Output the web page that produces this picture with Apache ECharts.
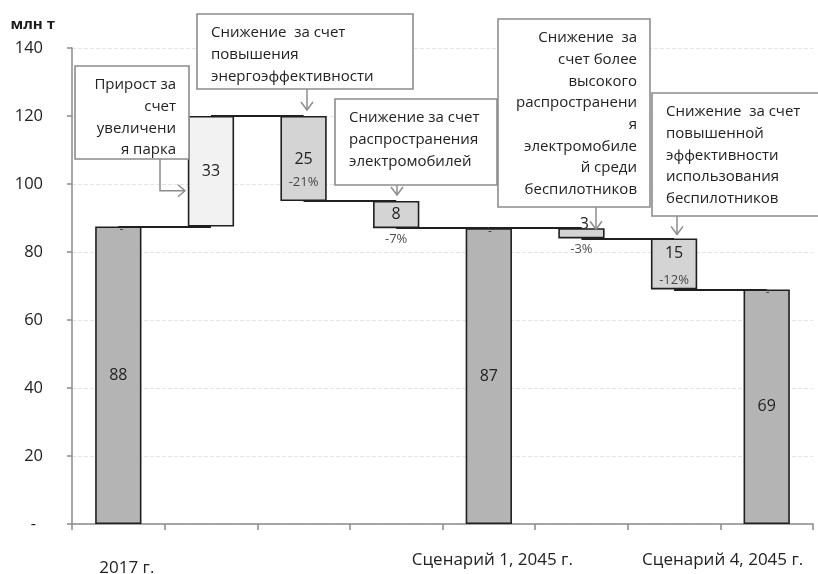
<!DOCTYPE html>
<html>
<head>
<meta charset="utf-8">
<script src="https://cdn.jsdelivr.net/npm/echarts@6/dist/echarts.min.js"></script>
<style>
html,body{margin:0;padding:0;background:#fff;}
#chart{width:818px;height:574px;}
</style>
</head>
<body>
<div id="chart"></div>
<script>
// ---- data ----
var categories = ['2017 г.', 'Прирост', 'Энергоэффективность', 'Электромобили', 'Сценарий 1, 2045 г.', 'Электромобили БПЛА', 'Эффективность БПЛА', 'Сценарий 4, 2045 г.'];
var shownLabels = ['2017 г.', '', '', '', 'Сценарий 1, 2045 г.', '', '', 'Сценарий 4, 2045 г.'];
var values = [87.5, 32.5, 25, 8, 87, 3, 15, 69];
var kinds = ['total', 'inc', 'dec', 'dec', 'total', 'dec', 'dec', 'total'];
var percents = ['', '', '-21%', '-7%', '', '-3%', '-12%', ''];
var yTicks = [0, 20, 40, 60, 80, 100, 120, 140];
var calloutTexts = [
  ['Прирост за', 'счет', 'увеличени', 'я парка'],
  ['Снижение  за счет', 'повышения', 'энергоэффективности'],
  ['Снижение за счет', 'распространения', 'электромобилей'],
  ['Снижение  за', 'счет более', 'высокого', 'распространени', 'я', 'электромобиле', 'й среди', 'беспилотников'],
  ['Снижение  за счет', 'повышенной', 'эффективности', 'использования', 'беспилотников']
];

// ---- derived waterfall ----
var bases = [], tops = [], levels = [];
var level = 0;
for (var i = 0; i < values.length; i++) {
  if (kinds[i] === 'total') { bases.push(0); level = values[i]; tops.push(values[i]); }
  else if (kinds[i] === 'inc') { bases.push(level); level += values[i]; tops.push(level); }
  else { tops.push(level); level -= values[i]; bases.push(level); }
  levels.push(level);
}

var FONT = '"Open Sans", "Noto Sans", sans-serif';
var TXT = '#222222';
var fills = { total: '#b4b4b4', inc: '#f2f2f2', dec: '#d4d4d4' };
function roundLabel(p) { return String(Math.round(p.value)); }

var barData = values.map(function (v, i) {
  var lab = { show: true, position: 'inside', fontSize: 16, color: TXT, fontFamily: FONT, formatter: roundLabel };
  if (i === 5) { lab.position = 'top'; lab.distance = -4; lab.offset = [3, 0]; }
  if (i === 6) { lab.position = 'insideTop'; lab.distance = 7; }
  if (i === 2) { lab.offset = [0, 1]; }
  return {
    value: v,
    itemStyle: { color: fills[kinds[i]], borderColor: '#1f1f1f', borderWidth: 1.6 },
    label: lab
  };
});

var connectors = [];
for (var j = 0; j < values.length - 1; j++) {
  connectors.push([{ coord: [j, levels[j]] }, { coord: [j + 1, levels[j]] }]);
}

// annotation points: percentages at bar bottoms, dashes at total tops
var annot = [];
values.forEach(function (v, i) {
  if (percents[i]) {
    var off = (i === 2) ? -19 : (i === 6 ? -9 : 11);
    annot.push({ value: [i, bases[i]], label: { show: true, formatter: percents[i], position: 'inside', offset: [0, off], fontSize: 13, color: TXT, fontFamily: FONT } });
  }
  if (kinds[i] === 'total') {
    annot.push({ value: [i, tops[i]], label: { show: true, formatter: '-', position: 'inside', offset: [i === 0 ? 3 : 1, 3], fontSize: 12, color: TXT, fontFamily: FONT } });
  }
});

var chart = echarts.init(document.getElementById('chart'), null, { renderer: 'canvas' });

var option = {
  animation: false,
  backgroundColor: '#fff',
  grid: { left: 72, right: 5, top: 48, bottom: 50, containLabel: false, outerBoundsMode: 'none' },
  xAxis: {
    type: 'category',
    data: categories,
    boundaryGap: true,
    axisLine: { show: true, lineStyle: { color: '#8a8a8a', width: 1.5 } },
    axisTick: { show: true, interval: 0, length: 6, lineStyle: { color: '#8a8a8a', width: 1.5 } },
    axisLabel: {
      interval: 0, margin: 28, fontSize: 17, color: TXT, fontFamily: FONT,
      formatter: function (val, idx) {
        var t = shownLabels[idx];
        if (!t) return '';
        if (idx === 0) return '{a|' + t + '}';
        if (idx === 4) return '{b|' + t + '}';
        return '{c|' + t + '}';
      },
      rich: {
        a: { fontSize: 17, color: TXT, fontFamily: FONT, padding: [8, 0, 0, 17] },
        b: { fontSize: 17, color: TXT, fontFamily: FONT, padding: [0, 0, 0, 7] },
        c: { fontSize: 17, color: TXT, fontFamily: FONT, padding: [0, 88, 0, 0] }
      }
    },
    splitLine: { show: false }
  },
  yAxis: {
    type: 'value',
    min: yTicks[0], max: yTicks[yTicks.length - 1], interval: 20,
    name: 'млн т',
    nameLocation: 'end',
    nameGap: 23,
    nameTextStyle: { fontSize: 15, fontWeight: 'bold', color: '#1a1a1a', fontFamily: FONT, align: 'right', verticalAlign: 'middle', padding: [0, 17, 0, 0] },
    axisLine: { show: true, lineStyle: { color: '#8a8a8a', width: 1.5 } },
    axisTick: { show: true, length: 5, lineStyle: { color: '#8a8a8a', width: 1.5 } },
    axisLabel: {
      margin: 29, fontSize: 16.5, color: TXT, fontFamily: FONT,
      formatter: function (v) { return v === 0 ? '{d|-}' : String(v); },
      rich: { d: { fontSize: 16.5, color: TXT, fontFamily: FONT, padding: [0, 7, 0, 0] } }
    },
    splitLine: { show: true, lineStyle: { color: '#e4e4e4', type: 'dashed', width: 1 } }
  },
  series: [
    {
      type: 'bar', stack: 'wf', barWidth: '50%', silent: true,
      itemStyle: { color: 'transparent', borderWidth: 0 },
      data: bases
    },
    {
      type: 'bar', stack: 'wf', barWidth: '50%', silent: true,
      label: { show: true, formatter: roundLabel },
      data: barData,
      markLine: {
        silent: true, symbol: ['none', 'none'], label: { show: false },
        lineStyle: { color: '#1f1f1f', width: 1.8, type: 'solid' },
        emphasis: { disabled: true },
        data: connectors
      },
      z: 3
    },
    {
      type: 'scatter', symbolSize: 0, silent: true, z: 5,
      data: annot
    }
  ]
};
chart.setOption(option);

// ---- callouts (annotation boxes), arrows anchored to bar tops via axis scales ----
function px(i, v) { return chart.convertToPixel({ gridIndex: 0 }, [i, v]); }
var boxes = [
  { x: 75, y: 66, w: 114, h: 93, align: 'right' },
  { x: 197, y: 14, w: 216, h: 75, align: 'left' },
  { x: 335, y: 99, w: 162, h: 86, align: 'left' },
  { x: 498, y: 19, w: 152, h: 188, align: 'right' },
  { x: 652, y: 93, w: 180, h: 123, align: 'left' }
];
var graphics = [];
var GRAY = '#8c8c8c';
boxes.forEach(function (b, k) {
  graphics.push({
    type: 'rect', shape: { x: b.x, y: b.y, width: b.w, height: b.h },
    style: { fill: '#fff', stroke: GRAY, lineWidth: 1.6 }, z: 10
  });
  graphics.push({
    type: 'text', z: 11,
    style: {
      text: calloutTexts[k].join('\n'),
      x: b.align === 'right' ? b.x + b.w - 13 : b.x + 14,
      y: b.y + 8,
      align: b.align, verticalAlign: 'top',
      font: '15px ' + FONT, lineHeight: 21.7, fill: TXT
    }
  });
});
// elbow arrow for the increase callout, pointing at the increase bar's left side
(function () {
  var barLeft = px(1, 98)[0] - 23;
  var ty = px(1, 98)[1];
  var sx = 160, sy = 159;
  graphics.push({ type: 'polyline', z: 11, shape: { points: [[sx, sy], [sx, ty], [barLeft - 3, ty]] }, style: { stroke: GRAY, lineWidth: 1.5, fill: null } });
  graphics.push({ type: 'polyline', z: 11, shape: { points: [[barLeft - 10, ty - 6], [barLeft - 3, ty], [barLeft - 10, ty + 6]] }, style: { stroke: GRAY, lineWidth: 1.5, fill: null } });
})();
// vertical arrows to the decrease bars
var arrowSpecs = [
  { box: 1, x: 307, bar: 2, gap: 6 },
  { box: 2, x: 397, bar: 3, gap: 6 },
  { box: 3, x: 596, bar: 5, gap: -1 },
  { box: 4, x: 677, bar: 6, gap: 4 }
];
arrowSpecs.forEach(function (a) {
  var b = boxes[a.box];
  var tipY = px(a.bar, tops[a.bar])[1] - a.gap;
  var sy = b.y + b.h;
  graphics.push({ type: 'polyline', z: 11, shape: { points: [[a.x, sy], [a.x, tipY]] }, style: { stroke: GRAY, lineWidth: 1.5, fill: null } });
  graphics.push({ type: 'polyline', z: 11, shape: { points: [[a.x - 6, tipY - 8], [a.x, tipY], [a.x + 6, tipY - 8]] }, style: { stroke: GRAY, lineWidth: 1.5, fill: null } });
});
chart.setOption({ graphic: graphics });
</script>
</body>
</html>
